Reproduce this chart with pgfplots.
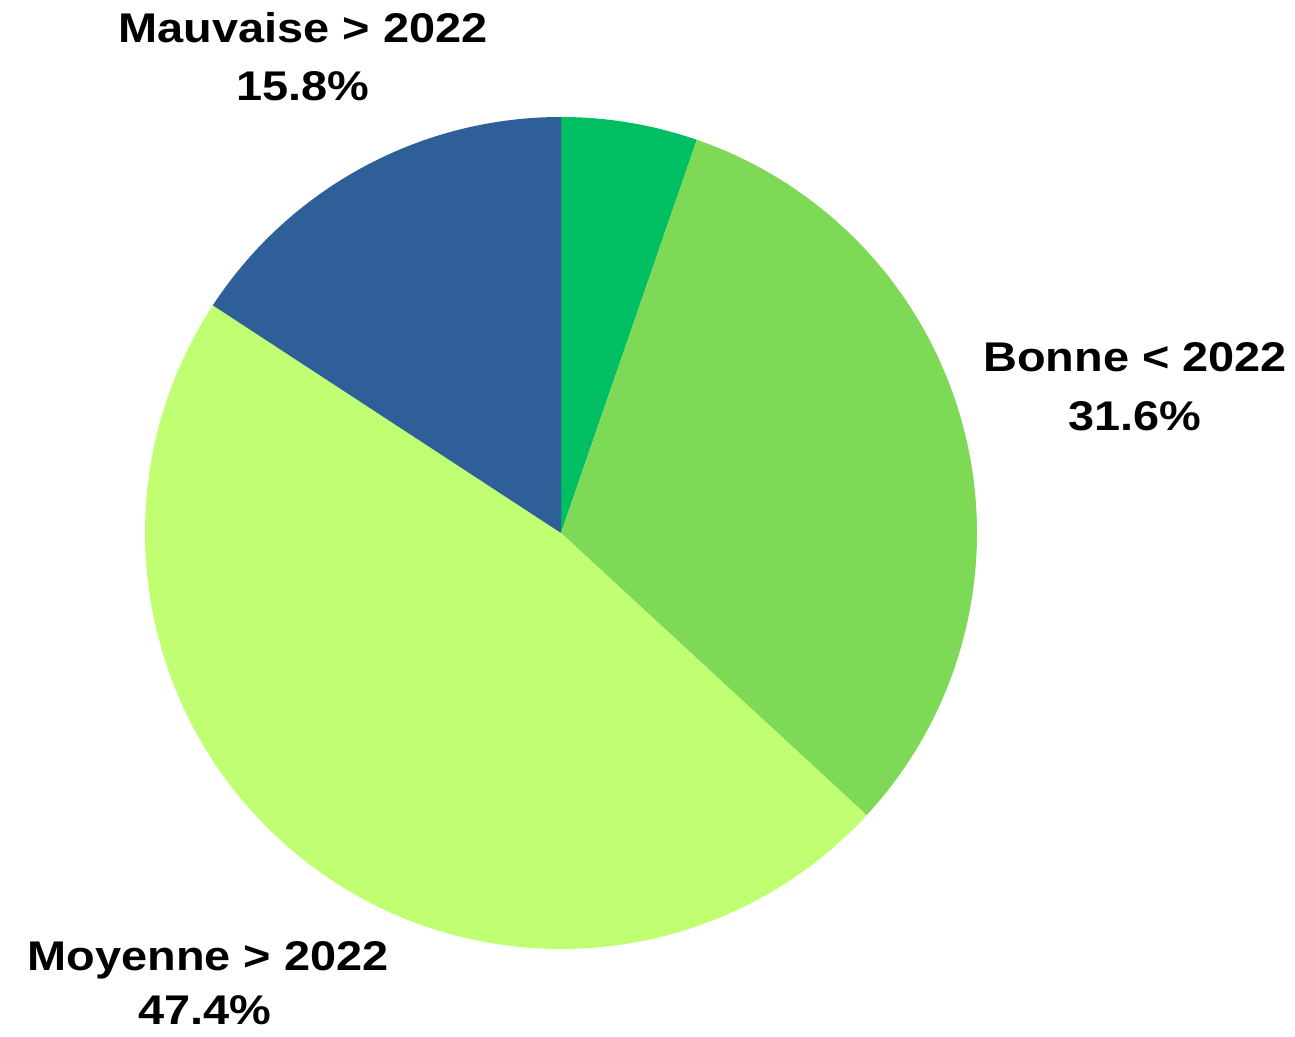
\documentclass[border=0pt]{standalone}
\usepackage{pgfplots}
\pgfplotsset{compat=1.18}
\usepackage{pgfplotstable}
\usepackage{fontspec}
\setmainfont[FakeStretch=1.13]{Liberation Sans}

\definecolor{cAutre}{HTML}{00BF63}
\definecolor{cBonne}{HTML}{7ED957}
\definecolor{cMoy}{HTML}{C1FF72}
\definecolor{cMauv}{HTML}{2F5F98}

\tikzset{lbl/.style={anchor=base, inner sep=0pt, font=\fontsize{41.5}{41.5}\selectfont\bfseries}}

% parts in percent, clockwise from the top
\pgfplotstableread{
part value
Autre 5.3
Bonne 31.6
Moyenne 47.4
Mauvaise 15.8
}\piedata

\begin{document}
\begin{tikzpicture}
\pgfplotstablegetelem{0}{value}\of\piedata \let\vA\pgfplotsretval
\pgfplotstablegetelem{1}{value}\of\piedata \let\vB\pgfplotsretval
\pgfplotstablegetelem{2}{value}\of\piedata \let\vC\pgfplotsretval
\pgfplotstablegetelem{3}{value}\of\piedata \let\vD\pgfplotsretval
\pgfmathsetmacro\tot{\vA+\vB+\vC+\vD}
\pgfmathsetmacro\aA{90}
\pgfmathsetmacro\aB{\aA-360*(\vA/\tot)}
\pgfmathsetmacro\aC{\aB-360*(\vB/\tot)}
\pgfmathsetmacro\aD{\aC-360*(\vC/\tot)}
\pgfmathsetmacro\aE{\aD-360*(\vD/\tot)}
\def\R{416pt}
\begin{axis}[
    x=1pt, y=1pt,
    xmin=0, xmax=1295, ymin=0, ymax=1036,
    at={(0,0)}, anchor=south west,
    scale only axis,
    hide axis,
    clip=false,
]
\fill[cAutre] (axis cs:561,503) -- ++(\aA:\R) arc[start angle=\aA, end angle=\aB, radius=\R] -- cycle;
\fill[cBonne] (axis cs:561,503) -- ++(\aB:\R) arc[start angle=\aB, end angle=\aC, radius=\R] -- cycle;
\fill[cMoy]   (axis cs:561,503) -- ++(\aC:\R) arc[start angle=\aC, end angle=\aD, radius=\R] -- cycle;
\fill[cMauv]  (axis cs:561,503) -- ++(\aD:\R) arc[start angle=\aD, end angle=\aE, radius=\R] -- cycle;

\node[lbl] at (axis cs:303,993) {Mauvaise > 2022};
\node[lbl] at (axis cs:303,935) {15.8\%};
\node[lbl] at (axis cs:1135,664) {Bonne < 2022};
\node[lbl] at (axis cs:1135,605) {31.6\%};
\node[lbl] at (axis cs:208,66) {Moyenne > 2022};
\node[lbl] at (axis cs:205,12) {47.4\%};
\end{axis}
\pgfresetboundingbox
\path[use as bounding box] (0,0) rectangle (1295pt,1036pt);
\end{tikzpicture}
\end{document}
